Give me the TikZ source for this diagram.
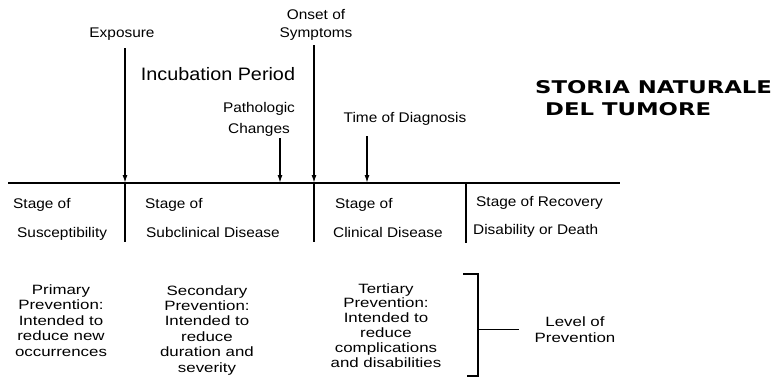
\documentclass[tikz,border=0pt]{standalone}
\usepackage{fontspec}
\setmainfont{Liberation Sans}
\newfontfamily\labfont[FakeStretch=1.1]{Liberation Sans}
\newfontfamily\prevfont[FakeStretch=1.25]{Liberation Sans}
\newfontfamily\titlefont[FakeStretch=1.3]{DejaVu Sans}
\usetikzlibrary{arrows.meta}

\tikzset{
  lab/.style={font=\labfont\fontsize{14}{18}\selectfont, inner sep=0pt, align=center},
  stagebox/.style={font=\labfont\fontsize{14}{29}\selectfont, inner sep=0pt, align=left, anchor=base west},
  prev/.style={font=\prevfont\fontsize{13.5}{15.4}\selectfont, inner sep=0pt, align=center, anchor=base},
  evt/.style={-{Latex[length=8pt,width=5pt]}, line width=1.4pt},
  rule/.style={line width=1.4pt},
}

\begin{document}
\begin{tikzpicture}[x=1pt,y=-1pt]
  \useasboundingbox (0,0) rectangle (775,377);
  % time line
  \coordinate (tl0) at (8,183) ;
  \coordinate (tl1) at (620,183) ;
  \draw [rule] (tl0) -- (tl1) ;
  % events on the line
  \coordinate (expoT) at (125,183) ;
  \coordinate (pathT) at (280,183) ;
  \coordinate (onsetT) at (314,183) ;
  \coordinate (diagT) at (367,183) ;
  \node [lab, anchor=base] (expo) at (122,38) {Exposure} ;
  \node [lab, anchor=base] (onset) at (316,38) {Onset of\\Symptoms} ;
  \node [lab, anchor=base, font=\labfont\fontsize{18}{20}\selectfont] (incub) at (218,81) {Incubation Period} ;
  \node [lab, anchor=base, font=\labfont\fontsize{14}{21}\selectfont] (path) at (259,133) {Pathologic\\Changes} ;
  \node [lab, anchor=base] (diag) at (405,122) {Time of Diagnosis} ;
  \draw [evt, shorten <=7pt] (expo.south -| expoT) -- (expoT) ;
  \draw [evt, shorten <=4pt] (onset.south -| onsetT) -- (onsetT) ;
  \draw [evt, shorten <=2pt] (path.south -| pathT) -- (pathT) ;
  \draw [evt, shorten <=11pt] (diag.south -| diagT) -- (diagT) ;
  % stage dividers
  \coordinate (div1) at (125,242) ;
  \coordinate (div2) at (314,242) ;
  \coordinate (div3a) at (466,183) ;
  \coordinate (div3b) at (466,243) ;
  \draw [rule] (expoT) -- (div1) ;
  \draw [rule] (onsetT) -- (div2) ;
  \draw [rule] (div3a) -- (div3b) ;
  % stages
  \node [stagebox] (st1) at (13,237) {Stage of\\\hspace{4pt}Susceptibility} ;
  \node [stagebox] (st2) at (145,237) {Stage of\\\hspace{1pt}Subclinical Disease} ;
  \node [stagebox] (st3) at (335,237) {Stage of\\\hspace{-2pt}Clinical Disease} ;
  \node [stagebox, font=\labfont\fontsize{14}{28}\selectfont] (st4) at (476,234) {Stage of Recovery\\\hspace{-3pt}Disability or Death} ;
  % prevention
  \node [prev] (prim) at (61,356) {Primary\\Prevention:\\Intended to\\reduce new\\occurrences} ;
  \node [prev] (sec) at (207,372) {Secondary\\Prevention:\\Intended to\\reduce\\duration and\\severity} ;
  \node [prev, font=\prevfont\fontsize{13.5}{14.8}\selectfont] (tert) at (386,367) {Tertiary\\Prevention:\\Intended to\\reduce\\complications\\and disabilities} ;
  \node [prev] (lop) at (575,342) {Level of\\Prevention} ;
  % bracket
  \coordinate (brA) at (463,274) ;
  \coordinate (brB) at (478,274) ;
  \coordinate (brC) at (478,376) ;
  \coordinate (brD) at (467,376) ;
  \draw [rule] (brA) -- (brB) -- (brC) -- (brD) ;
  \draw [rule, shorten >=15pt] (brB |- lop.west) -- (lop.west) ;
  % title
  \node [inner sep=0pt, anchor=base west, align=left, font=\titlefont\bfseries\fontsize{17.5}{22}\selectfont] (title) at (535,115) {STORIA NATURALE\\\hspace{10pt}DEL TUMORE} ;
\end{tikzpicture}
\end{document}
